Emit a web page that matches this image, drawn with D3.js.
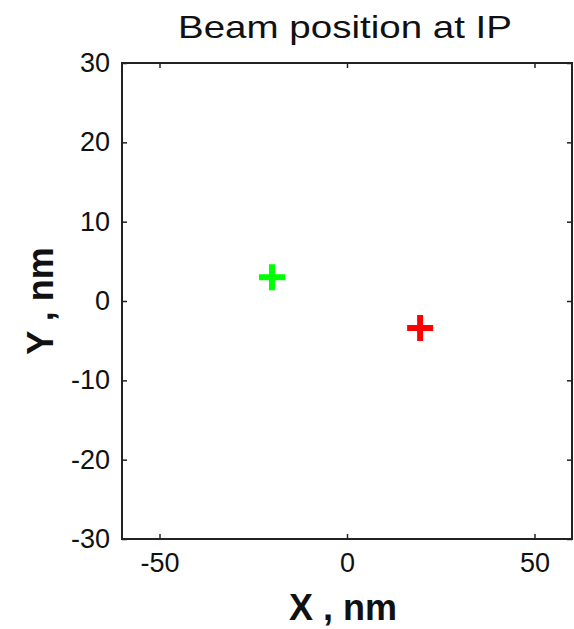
<!DOCTYPE html>
<html>
<head>
<meta charset="utf-8">
<script src="https://cdn.jsdelivr.net/npm/d3@7"></script>
<style>
  body { margin: 0; background: #fff; }
  svg { font-family: "Liberation Sans", Arial, sans-serif; }
</style>
</head>
<body>
<svg></svg>
<script>
// beam positions at the IP (nm)
const beamNames = ["beam1", "beam2"];
const beamX = [-20, 19.5];
const beamY = [3, -3.4];
const beamColors = ["#00ff00", "#ff0000"];

const xTicks = [-50, 0, 50];
const yTicks = [-30, -20, -10, 0, 10, 20, 30];

function main() {
    const canvasWidth = 574;
    const canvasHeight = 629;
    // plot box edges
    const marginLeft = 122;
    const marginRight = 2;
    const marginTop = 63;
    const marginBot = 90;

    const plotW = canvasWidth - marginLeft - marginRight;
    const plotH = canvasHeight - marginTop - marginBot;

    let svg = d3.select("svg")
        .attr("width", canvasWidth)
        .attr("height", canvasHeight);

    let xScale = d3.scaleLinear().domain([-60, 60]).range([0, plotW]);
    let yScale = d3.scaleLinear().domain([-30, 30]).range([plotH, 0]);

    let g = svg.append("g")
        .attr("transform", `translate(${marginLeft}, ${marginTop})`);

    // axes, ticks pointing inward, plain hyphen for minus
    let styleAxis = function(sel) {
        sel.select(".domain").remove();
        sel.selectAll("line").attr("stroke", "#222").attr("stroke-width", 1.5);
        sel.selectAll("text").attr("fill", "#111").attr("font-size", "27px");
    };
    const fmt = d => String(d);

    g.append("g")
        .attr("transform", `translate(0, ${plotH})`)
        .call(d3.axisBottom(xScale).tickValues(xTicks).tickSize(-5).tickPadding(14).tickFormat(fmt))
        .call(styleAxis);
    g.append("g")
        .call(d3.axisTop(xScale).tickValues(xTicks).tickSize(-5).tickFormat(""))
        .call(styleAxis);
    g.append("g")
        .call(d3.axisLeft(yScale).tickValues(yTicks).tickSize(-5).tickPadding(12).tickFormat(fmt))
        .call(styleAxis);
    g.append("g")
        .attr("transform", `translate(${plotW}, 0)`)
        .call(d3.axisRight(yScale).tickValues(yTicks).tickSize(-5).tickFormat(""))
        .call(styleAxis);

    // box
    g.append("rect")
        .attr("width", plotW)
        .attr("height", plotH)
        .attr("fill", "none")
        .attr("stroke", "#222")
        .attr("stroke-width", 2);

    // plus markers
    const arm = 13;
    let marks = g.selectAll(".beam")
        .data(beamNames)
        .enter().append("g")
        .attr("class", "beam")
        .attr("transform", (d, i) => `translate(${xScale(beamX[i])}, ${yScale(beamY[i])})`);
    marks.append("path")
        .attr("d", `M${-arm},0H${arm}M0,${-arm}V${arm}`)
        .attr("stroke", (d, i) => beamColors[i])
        .attr("stroke-width", 6)
        .attr("fill", "none");

    // title
    svg.append("text")
        .text("Beam position at IP")
        .attr("x", 345)
        .attr("y", 38)
        .attr("font-size", "32px")
        .attr("textLength", 334)
        .attr("lengthAdjust", "spacingAndGlyphs")
        .attr("fill", "#111")
        .style("text-anchor", "middle");

    // X axis title
    svg.append("text")
        .text("X , nm")
        .attr("x", 343)
        .attr("y", 620)
        .attr("font-size", "36px")
        .attr("font-weight", "bold")
        .attr("fill", "#111")
        .style("text-anchor", "middle");

    // Y axis title
    svg.append("text")
        .text("Y , nm")
        .attr("font-size", "36px")
        .attr("font-weight", "bold")
        .attr("fill", "#111")
        .attr("transform", `translate(53, ${marginTop + plotH / 2}) rotate(-90)`)
        .style("text-anchor", "middle");
}

main();
</script>
</body>
</html>
